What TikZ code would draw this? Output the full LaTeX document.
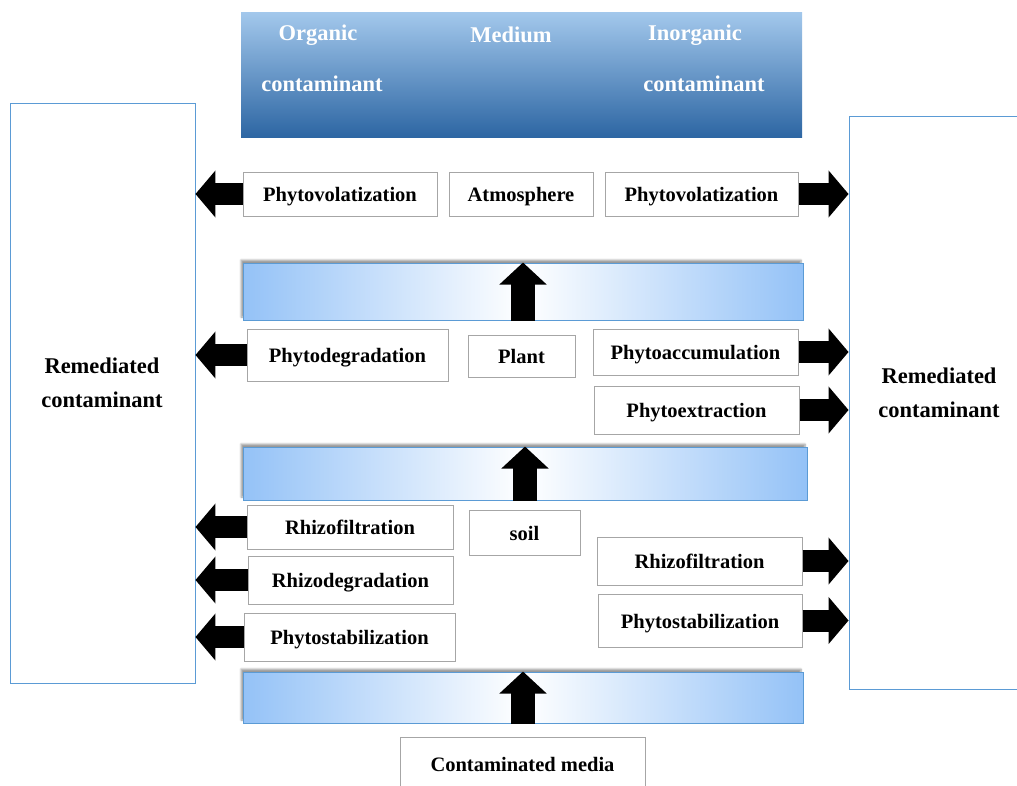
\documentclass[tikz,border=0pt]{standalone}
\usepackage{fontspec}
\setmainfont{Liberation Serif}
\usetikzlibrary{arrows.meta,positioning,shadows.blur}
\definecolor{edgeBlue}{HTML}{5B9BD5}
\definecolor{barBlue}{HTML}{94C2F7}
\definecolor{headLight}{HTML}{A3C8EC}
\definecolor{headDark}{HTML}{2D66A3}
\definecolor{boxRule}{HTML}{A6A6A6}

\begin{document}
\begin{tikzpicture}[x=1pt,y=-1pt,
    font=\fontsize{20.5}{24}\selectfont\bfseries,
    pbox/.style={draw=boxRule,line width=1pt,fill=white,inner sep=0pt,
                 text height=20pt,text depth=4.5pt},
    bar/.style={draw=edgeBlue,line width=1pt,inner sep=0pt,
                left color=barBlue,right color=barBlue,middle color=white,
                blur shadow={shadow xshift=-2pt,shadow yshift=3pt,
                             shadow blur steps=6,shadow opacity=40}},
    remed/.style={draw=edgeBlue,line width=0.9pt,fill=white,inner sep=0pt},
    bigtxt/.style={align=center,font=\fontsize{22.5}{34}\selectfont\bfseries},
    headtxt/.style={text=white,font=\fontsize{22.5}{26}\selectfont\bfseries},
    flow/.style={line width=22pt,-{Triangle[length=20pt,width=46pt]}},
    rise/.style={line width=24pt,-{Triangle[length=22pt,width=46pt]}}]
  \useasboundingbox (0,0) rectangle (1017,785);

  % side boxes
  \node[remed,minimum width=185pt,minimum height=580pt] (lrem) at (102.5,393) {};
  \node[remed,minimum width=181pt,minimum height=573pt] (rrem) at (939.5,402.5) {};
  \node[bigtxt] (ltxt) at (102,383) {Remediated\\contaminant};
  \node[bigtxt] (rtxt) at (939,393) {Remediated\\contaminant};

  % heading
  \node[inner sep=0pt,minimum width=561pt,minimum height=125pt,
        top color=headLight,bottom color=headDark] (head) at (521.5,74.5) {};
  \node[headtxt] (org1) at (318,35) {Organic};
  \node[headtxt] (org2) at (322,84) {contaminant};
  \node[headtxt] (med)  at (511,35) {Medium};
  \node[headtxt] (ino1) at (695,35) {Inorganic};
  \node[headtxt] (ino2) at (704,84) {contaminant};

  % atmosphere
  \node[pbox,minimum width=144pt,minimum height=44pt] (atm) at (521,194) {Atmosphere};
  \node[pbox,minimum width=194pt,minimum height=44pt] (pvL) at (340,194) {Phytovolatization};
  \node[pbox,minimum width=193pt,minimum height=44pt] (pvR) at (701.5,194) {Phytovolatization};

  % plant
  \node[bar,minimum width=560pt,minimum height=57pt] (bar1) at (523,291.5) {};
  \node[pbox,minimum width=107pt,minimum height=42pt] (plant) at (521.5,356) {Plant};
  \node[pbox,minimum width=201pt,minimum height=52pt] (pdeg) at (347.5,355) {Phytodegradation};
  \node[pbox,minimum width=205pt,minimum height=46pt] (pacc) at (695.5,352) {Phytoaccumulation};
  \node[pbox,minimum width=205pt,minimum height=48pt] (pext) at (696.5,410) {Phytoextraction};

  % soil
  \node[bar,minimum width=564pt,minimum height=53pt] (bar2) at (525,473.5) {};
  \node[pbox,minimum width=111pt,minimum height=45pt] (soil) at (524.5,532.5) {soil};
  \node[pbox,minimum width=206pt,minimum height=44pt] (rfL) at (350,527) {Rhizofiltration};
  \node[pbox,minimum width=205pt,minimum height=48pt] (rdeg) at (350.5,580) {Rhizodegradation};
  \node[pbox,minimum width=211pt,minimum height=48pt] (psL) at (349.5,637) {Phytostabilization};
  \node[pbox,minimum width=205pt,minimum height=48pt] (rfR) at (699.5,561) {Rhizofiltration};
  \node[pbox,minimum width=204pt,minimum height=53pt] (psR) at (700,620.5) {Phytostabilization};

  % media
  \node[bar,minimum width=560pt,minimum height=51pt] (bar3) at (523,697.5) {};
  \node[pbox,minimum width=245pt,minimum height=53pt] (cmed) at (522.5,763.5) {Contaminated media};

  % upward arrows
  \foreach \b in {bar1,bar2,bar3}
    \draw[rise] (\b.south) -- (\b.north);

  % to the remediated boxes
  \foreach \p in {pvL,pdeg,rfL,rdeg,psL}
    \draw[flow] (\p.west) -- (lrem.east |- \p);
  \foreach \p in {pvR,pacc,pext,rfR,psR}
    \draw[flow] (\p.east) -- (rrem.west |- \p);
\end{tikzpicture}
\end{document}
